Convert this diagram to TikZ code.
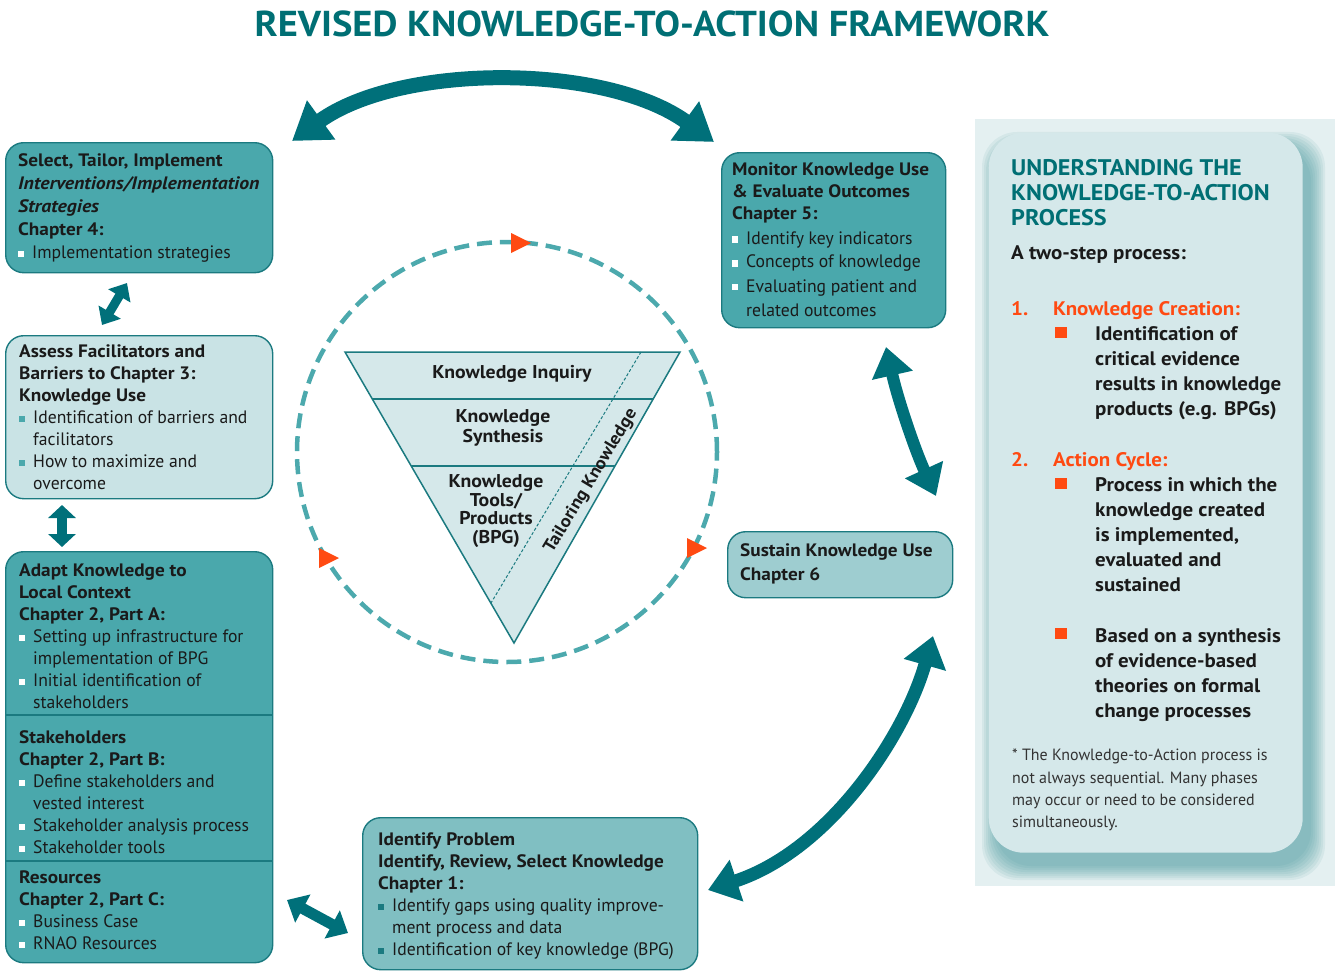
\documentclass[tikz,border=0pt]{standalone}
\usepackage{fontspec}
\setmainfont{PT Sans}[UprightFeatures={FakeStretch=0.98}, BoldFeatures={FakeStretch=1.07}, BoldItalicFeatures={FakeStretch=1.1}]
\usetikzlibrary{arrows.meta,calc}
\definecolor{tealdark}{HTML}{006F74}
\definecolor{tealbox}{HTML}{4AA8AC}
\definecolor{teallight}{HTML}{C9E3E5}
\definecolor{tealmid}{HTML}{80BFC2}
\definecolor{tealsus}{HTML}{9ECDD0}
\definecolor{tealborder}{HTML}{1B7A80}
\definecolor{arrowteal}{HTML}{00707A}
\definecolor{dashteal}{HTML}{4CA9AD}
\definecolor{orangeK}{HTML}{FF4A12}
\definecolor{panelbg}{HTML}{E4F0F1}
\definecolor{cardbg}{HTML}{D5E8EA}
\definecolor{shadowcol}{HTML}{3E9298}
\definecolor{trifill}{HTML}{D5E8EA}
\definecolor{txtcol}{HTML}{1A1A1A}
\definecolor{footcol}{HTML}{333333}
\newcommand{\bsq}[1]{\makebox[14pt][l]{\textcolor{#1}{\rule[1.5pt]{6pt}{6pt}}}}
\newcommand{\ind}{\hspace*{14pt}}
\begin{document}
\begin{tikzpicture}[x=1pt,y=-1pt,
  box/.style={draw=tealborder, line width=1.4pt, rounded corners=18pt, anchor=north west, inner sep=0pt},
  txt/.style={anchor=north west, inner sep=0pt, align=left, text=txtcol, font=\fontsize{18}{22}\selectfont},
  cardtxt/.style={anchor=north west, inner sep=0pt, align=left, text=txtcol, font=\bfseries\fontsize{19.6}{25}\selectfont},
  dbl/.style={draw=arrowteal, line width=#1},
]
\useasboundingbox (0,0) rectangle (1335,971);

% title
\node[anchor=center, inner sep=0pt, text=tealdark, font=\bfseries\fontsize{36}{40}\selectfont] (title) at (652,24) {REVISED KNOWLEDGE-TO-ACTION FRAMEWORK};

% right panel
\fill[panelbg] (975,119) rectangle (1335,886);
\foreach \r in {14,12,...,0} {
  \fill[shadowcol, opacity=0.09, rounded corners=35pt] (988+8-\r,132+14-\r) rectangle (1302+9+\r,852+14+\r);
}
\node[box, draw=none, fill=cardbg, rounded corners=35pt, minimum width=314pt, minimum height=720pt] (card) at (988,132) {};

\node[anchor=north west, inner sep=0pt, align=left, text=tealdark, font=\bfseries\fontsize{22.6}{25}\selectfont] (cardtitle) at (1011,159) {UNDERSTANDING THE\\KNOWLEDGE-TO-ACTION\\PROCESS};
\node[cardtxt] (twostep) at (1011,245) {A two-step process:};
\node[cardtxt, text=orangeK] (n1) at (1011,301) {1.};
\node[cardtxt, text=orangeK] (kc) at (1053,301) {Knowledge Creation:};
\fill[orangeK] (1055,327) rectangle (1067,338);
\node[cardtxt] (kct) at (1095,326) {Identification of\\critical evidence\\results in knowledge\\products (e.g. BPGs)};
\node[cardtxt, text=orangeK] (n2) at (1011,452) {2.};
\node[cardtxt, text=orangeK] (ac) at (1053,452) {Action Cycle:};
\fill[orangeK] (1055,478) rectangle (1067,489);
\node[cardtxt] (act) at (1095,477) {Process in which the\\knowledge created\\is implemented,\\evaluated and\\sustained};
\fill[orangeK] (1055,628) rectangle (1067,639);
\node[cardtxt] (bst) at (1095,628) {Based on a synthesis\\of evidence-based\\theories on formal\\change processes};
\node[anchor=north west, inner sep=0pt, align=left, text=footcol, font=\fontsize{16.3}{22.3}\selectfont] (foot) at (1012,749) {* The Knowledge-to-Action process is\\not always sequential. Many phases\\may occur or need to be considered\\simultaneously.};

% dashed circle
\draw[dashteal, line width=4.5pt, dash pattern=on 15pt off 8pt] (507,452) circle (210pt);
\fill[orangeK] (511,233) -- (531,243) -- (511,253) -- cycle;
\fill[orangeK] (687,538) -- (707,548) -- (687,558) -- cycle;
\fill[orangeK] (319,548) -- (339,558) -- (319,568) -- cycle;

% inverted triangle
\coordinate (tl) at (345,352);
\coordinate (tr) at (680,352);
\coordinate (tb) at (514,643);
\fill[trifill] (tl) -- (tr) -- (tb) -- cycle;
\draw[tealborder, line width=1.3pt] (372,399) -- (653,399);
\draw[tealborder, line width=1.3pt] (411,466) -- (615,466);
\draw[tealborder, line width=1pt, dash pattern=on 3pt off 2pt] (641,352) -- (491,603);
\draw[tealborder, line width=1.5pt, line join=miter] (tl) -- (tr) -- (tb) -- cycle;
\node[anchor=center, inner sep=0pt, font=\bfseries\fontsize{18.5}{19}\selectfont, text=txtcol] (kinq) at (512,374) {Knowledge Inquiry};
\node[anchor=center, inner sep=0pt, align=center, font=\bfseries\fontsize{18.5}{19.5}\selectfont, text=txtcol] (ksyn) at (503,428) {Knowledge\\Synthesis};
\node[anchor=center, inner sep=0pt, align=center, font=\bfseries\fontsize{18.5}{18.5}\selectfont, text=txtcol] (ktool) at (496,511) {Knowledge\\Tools/\\Products\\(BPG)};
\node[anchor=center, inner sep=0pt, rotate=59, font=\bfseries\fontsize{17.5}{18}\selectfont, text=txtcol] (tailor) at (591,481) {Tailoring Knowledge};

% boxes
\node[box, fill=tealbox, minimum width=267pt, minimum height=130pt] (select) at (5,142) {};
\node[txt] (selectT) at (18,153) {\textbf{Select, Tailor, Implement}\\[1pt]\textbf{\textit{Interventions/Implementation}}\\[1pt]\textbf{\textit{Strategies}}\\[1pt]\textbf{Chapter 4:}\\[1.5pt]\bsq{white}Implementation strategies};

\node[box, fill=teallight, minimum width=267pt, minimum height=163pt] (assess) at (5,335) {};
\node[txt] (assessT) at (19,344) {\textbf{Assess Facilitators and}\\\textbf{Barriers to Chapter 3:}\\\textbf{Knowledge Use}\\\bsq{tealbox}Identification of barriers and\\\ind facilitators\\\bsq{tealbox}How to maximize and\\\ind overcome};

\node[box, fill=tealbox, minimum width=267pt, minimum height=411pt] (adapt) at (5,551) {};
\draw[tealborder, line width=1.2pt] (5,715) -- (272,715);
\draw[tealborder, line width=1.2pt] (5,861) -- (272,861);
\node[txt] (adaptA) at (19,564) {\textbf{Adapt Knowledge to}\\\textbf{Local Context}\\\textbf{Chapter 2, Part A:}\\\bsq{white}Setting up infrastructure for\\\ind implementation of BPG\\\bsq{white}Initial identification of\\\ind stakeholders};
\node[txt] (adaptB) at (19,730) {\textbf{Stakeholders}\\\textbf{Chapter 2, Part B:}\\\bsq{white}Define stakeholders and\\\ind vested interest\\\bsq{white}Stakeholder analysis process\\\bsq{white}Stakeholder tools};
\node[txt] (adaptC) at (19,871) {\textbf{Resources}\\\textbf{Chapter 2, Part C:}\\\bsq{white}Business Case\\\bsq{white}RNAO Resources};

\node[box, fill=tealbox, minimum width=224pt, minimum height=175pt] (monitor) at (721,152) {};
\node[txt] (monitorT) at (732,162) {\textbf{Monitor Knowledge Use}\\\textbf{\& Evaluate Outcomes}\\\textbf{Chapter 5:}\\[3pt]\bsq{white}Identify key indicators\\[2pt]\bsq{white}Concepts of knowledge\\[2pt]\bsq{white}Evaluating patient and\\[2pt]\ind related outcomes};

\node[box, fill=tealsus, minimum width=225pt, minimum height=66pt] (sustain) at (727,531) {};
\node[txt] (sustainT) at (740,543) {\textbf{Sustain Knowledge Use}\\[2pt]\textbf{Chapter 6}};

\node[box, fill=tealmid, minimum width=335pt, minimum height=152pt] (identify) at (362,817) {};
\node[txt] (identifyT) at (378,832) {\textbf{Identify Problem}\\\textbf{Identify, Review, Select Knowledge}\\\textbf{Chapter 1:}\\\bsq{tealborder}Identify gaps using quality improve-\\\ind ment process and data\\\bsq{tealborder}Identification of key knowledge (BPG)};

% connector end points
\coordinate (topL) at (292,141);
\coordinate (topR) at (714,142);
\coordinate (saA) at (127,283);
\coordinate (saB) at (102,325);
\coordinate (aaA) at (62,505);
\coordinate (aaB) at (62,547);
\coordinate (aiA) at (287,900);
\coordinate (aiB) at (348,933);
\coordinate (msA) at (886,347);
\coordinate (msB) at (936,496);
\coordinate (siA) at (933,636);
\coordinate (siB) at (708,890);

% connectors
\draw[dbl=15pt, {Triangle[length=36pt,width=46pt]}-{Triangle[length=36pt,width=46pt]}, arrowteal] (topL) .. controls (400,63) and (605,63) .. (topR);
\draw[dbl=9pt, {Triangle[length=15pt,width=25pt]}-{Triangle[length=15pt,width=25pt]}, arrowteal] (saA) -- (saB);
\draw[dbl=10pt, {Triangle[length=13pt,width=27pt]}-{Triangle[length=13pt,width=27pt]}, arrowteal] (aaA) -- (aaB);
\draw[dbl=11pt, {Triangle[length=18pt,width=31pt]}-{Triangle[length=18pt,width=31pt]}, arrowteal] (aiA) -- (aiB);
\draw[dbl=12pt, {Triangle[length=29pt,width=40pt]}-{Triangle[length=29pt,width=40pt]}, arrowteal] (msA) .. controls (898,400) and (915,450) .. (msB);
\draw[dbl=13pt, {Triangle[length=30pt,width=42pt]}-{Triangle[length=30pt,width=42pt]}, arrowteal] (siA) .. controls (905,735) and (830,850) .. (siB);
\end{tikzpicture}
\end{document}
